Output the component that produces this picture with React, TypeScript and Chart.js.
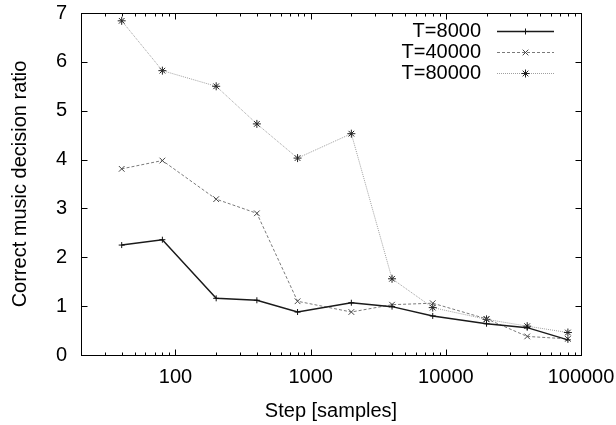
import React, { useEffect, useRef } from 'react';
import { Chart, registerables } from 'chart.js';

Chart.register(...registerables);

// ---- data ----
const steps = [40, 80, 200, 400, 800, 2000, 4000, 8000, 20000, 40000, 80000];
const t8000 = [2.25, 2.36, 1.16, 1.12, 0.88, 1.07, 0.99, 0.8, 0.64, 0.56, 0.31];
const t40000 = [3.81, 3.98, 3.19, 2.9, 1.1, 0.88, 1.03, 1.06, 0.74, 0.38, 0.33];
const t80000 = [6.84, 5.82, 5.5, 4.73, 4.03, 4.53, 1.56, 0.97, 0.73, 0.59, 0.46];
const seriesLabels = ['T=8000', 'T=40000', 'T=80000'];
const xMajorTicks = [100, 1000, 10000, 100000];
const yTickValues = [0, 1, 2, 3, 4, 5, 6, 7];
const xMin = 20;
const xMax = 100000;
const xTitle = 'Step [samples]';
const yTitle = 'Correct music decision ratio';

const FONT = '"Liberation Sans", Arial, Helvetica, sans-serif';

type SeriesStyle = {
  color: string;
  pointColor: string;
  width: number;
  dash: number[];
  marker: 'cross' | 'crossRot' | 'star';
  radius: number;
};

const styles: SeriesStyle[] = [
  { color: '#1a1a1a', pointColor: '#111', width: 1.5, dash: [], marker: 'cross', radius: 3 },
  { color: '#7a7a7a', pointColor: '#444', width: 1, dash: [3, 2], marker: 'crossRot', radius: 4 },
  { color: '#a0a0a0', pointColor: '#222', width: 1, dash: [1, 1], marker: 'star', radius: 4 },
];

function drawMarker(ctx: CanvasRenderingContext2D, kind: string, x: number, y: number, r: number) {
  ctx.beginPath();
  if (kind === 'cross' || kind === 'star') {
    ctx.moveTo(x - r, y);
    ctx.lineTo(x + r, y);
    ctx.moveTo(x, y - r);
    ctx.lineTo(x, y + r);
  }
  if (kind === 'crossRot' || kind === 'star') {
    const d = r * Math.SQRT1_2;
    ctx.moveTo(x - d, y - d);
    ctx.lineTo(x + d, y + d);
    ctx.moveTo(x - d, y + d);
    ctx.lineTo(x + d, y - d);
  }
  ctx.stroke();
}

const framePlugin = {
  id: 'gnuFrame',
  beforeDatasetsDraw(chart: any) {
    const { ctx, chartArea, scales } = chart;
    const x = scales.x;
    const y = scales.y;
    const L = Math.round(chartArea.left) + 0.5;
    const R = Math.round(chartArea.right) + 0.5;
    const T = Math.round(chartArea.top) + 0.5;
    const B = Math.round(chartArea.bottom) + 0.5;
    ctx.save();
    ctx.strokeStyle = '#000';
    ctx.lineWidth = 1;
    ctx.setLineDash([]);
    ctx.beginPath();
    for (const d of [10, 100, 1000, 10000]) {
      for (let m = 1; m <= 9; m++) {
        const v = m * d;
        if (v < xMin || v > xMax) continue;
        const len = m === 1 ? 6 : 3;
        const px = Math.round(x.getPixelForValue(v)) + 0.5;
        ctx.moveTo(px, B);
        ctx.lineTo(px, B - len);
        ctx.moveTo(px, T);
        ctx.lineTo(px, T + len);
      }
    }
    for (const v of yTickValues) {
      const py = Math.round(y.getPixelForValue(v)) + 0.5;
      ctx.moveTo(L, py);
      ctx.lineTo(L + 6, py);
      ctx.moveTo(R, py);
      ctx.lineTo(R - 6, py);
    }
    ctx.stroke();
    ctx.strokeRect(L, T, R - L, B - T);
    ctx.restore();
  },
};

const keyPlugin = {
  id: 'gnuKey',
  afterDraw(chart: any) {
    const { ctx } = chart;
    ctx.save();
    ctx.font = `20px ${FONT}`;
    ctx.textAlign = 'right';
    ctx.textBaseline = 'middle';
    seriesLabels.forEach((label, i) => {
      const s = styles[i];
      const yy = 31 + i * 21;
      ctx.fillStyle = '#000';
      ctx.fillText(label, 481, yy);
      ctx.strokeStyle = s.color;
      ctx.lineWidth = s.width;
      ctx.setLineDash(s.dash);
      ctx.beginPath();
      ctx.moveTo(497, yy + 0.5);
      ctx.lineTo(554, yy + 0.5);
      ctx.stroke();
      ctx.setLineDash([]);
      ctx.strokeStyle = s.pointColor;
      ctx.lineWidth = 1;
      drawMarker(ctx, s.marker, 525.5, yy + 0.5, s.radius);
    });
    ctx.restore();
  },
};

export default function App() {
  const ref = useRef<HTMLCanvasElement | null>(null);

  useEffect(() => {
    if (!ref.current) return;
    const allSeries = [t8000, t40000, t80000];
    const chart = new Chart(ref.current, {
      type: 'line',
      data: {
        datasets: allSeries.map((vals, i) => ({
          label: seriesLabels[i],
          data: steps.map((s, j) => ({ x: s, y: vals[j] })),
          borderColor: styles[i].color,
          borderWidth: styles[i].width,
          borderDash: styles[i].dash,
          pointStyle: styles[i].marker,
          pointRadius: styles[i].radius,
          pointBorderColor: styles[i].pointColor,
          pointBackgroundColor: styles[i].pointColor,
          pointBorderWidth: 1,
          fill: false,
          tension: 0,
        })),
      },
      options: {
        responsive: false,
        animation: false,
        devicePixelRatio: 1,
        layout: { padding: { left: 0, top: 13, right: 35, bottom: 0 } },
        plugins: { legend: { display: false }, tooltip: { enabled: false } },
        scales: {
          x: {
            type: 'logarithmic',
            min: xMin,
            max: xMax,
            grid: { display: false, drawTicks: false, tickLength: 0 },
            border: { display: false },
            afterBuildTicks: (s: any) => {
              s.ticks = xMajorTicks.map((v) => ({ value: v }));
            },
            ticks: {
              autoSkip: false,
              maxRotation: 0,
              padding: 10,
              color: '#000',
              font: { size: 20, family: FONT },
              callback: (v: any) => String(v),
            },
            title: {
              display: true,
              text: xTitle,
              color: '#000',
              font: { size: 20, family: FONT },
              padding: { top: 0, bottom: 2 },
            },
            afterFit: (s: any) => {
              s.height = 70;
              s.paddingLeft = 0;
              s.paddingRight = 0;
            },
          },
          y: {
            type: 'linear',
            min: 0,
            max: 7,
            grid: { display: false, drawTicks: false, tickLength: 0 },
            border: { display: false },
            ticks: {
              stepSize: 1,
              padding: 14,
              color: '#000',
              font: { size: 20, family: FONT },
            },
            title: {
              display: true,
              text: yTitle,
              color: '#000',
              font: { size: 20, family: FONT },
              padding: { top: 8, bottom: 0 },
            },
            afterFit: (s: any) => {
              s.width = 81;
              s.paddingTop = 0;
              s.paddingBottom = 0;
            },
          },
        },
      } as any,
      plugins: [framePlugin, keyPlugin],
    });
    return () => chart.destroy();
  }, []);

  return (
    <div style={{ position: 'absolute', left: 0, top: 0, width: 616, height: 425, background: '#fff' }}>
      <canvas ref={ref} width={616} height={425} style={{ display: 'block' }} />
    </div>
  );
}
